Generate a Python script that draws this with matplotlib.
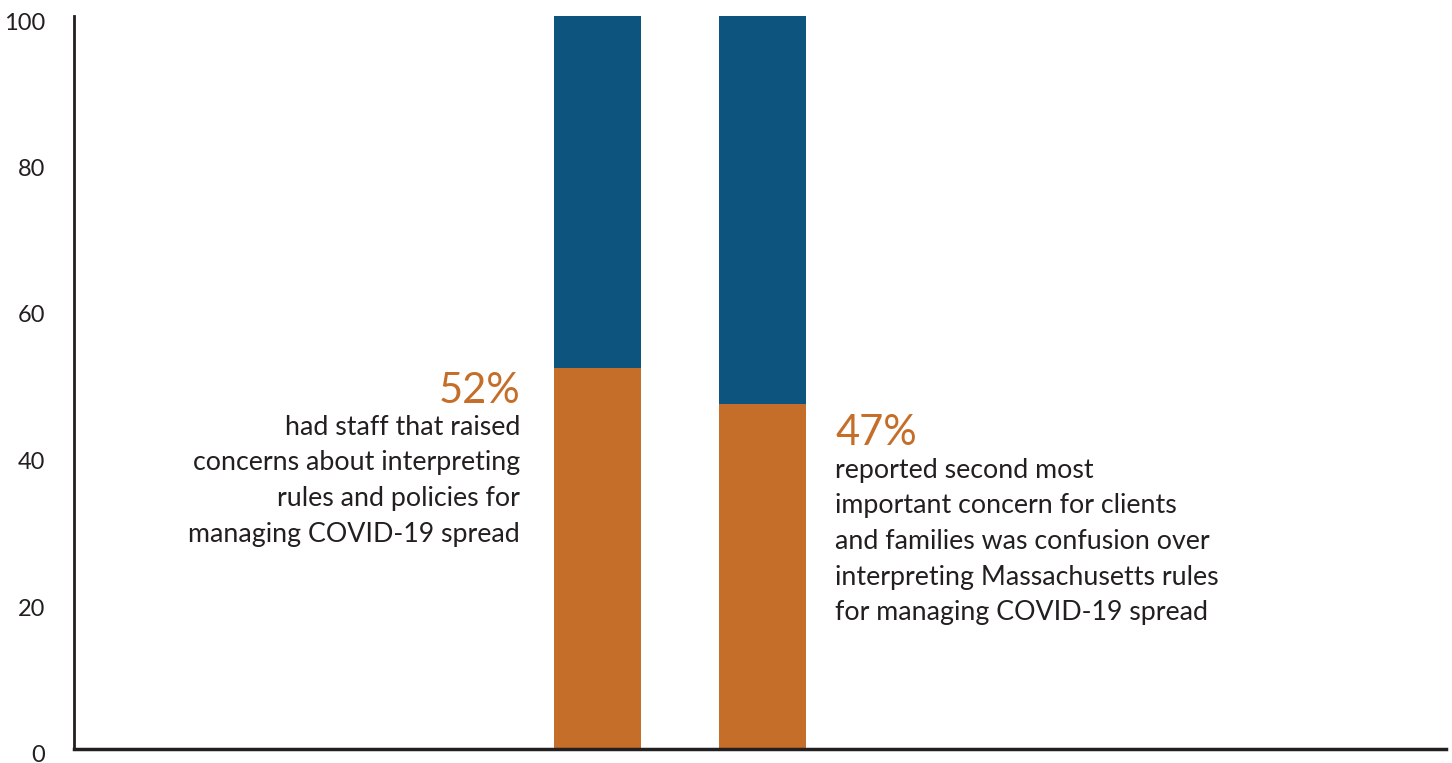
import matplotlib.pyplot as plt
import matplotlib.transforms as mtransforms

# Andel som rapporterade oro (orange) och resten upp till 100 (blå)
bar_pos = [0, 1]
concern_pct = [52, 47]
total_pct = [100, 100]
yticks = [0, 20, 40, 60, 80, 100]

headline_left = "52%"
body_left = ("had staff that raised\n"
             "concerns about interpreting\n"
             "rules and policies for\n"
             "managing COVID-19 spread")
headline_right = "47%"
body_right = ("reported second most\n"
              "important concern for clients\n"
              "and families was confusion over\n"
              "interpreting Massachusetts rules\n"
              "for managing COVID-19 spread")

orange = '#C46E29'
blue = '#0D557E'
dark = '#231F20'

plt.rcParams['font.family'] = ['Lato', 'DejaVu Sans']

fig = plt.figure(figsize=(14.52, 7.63), dpi=100)
ax = fig.add_axes([74 / 1452, (763 - 748.5) / 763, (1446 - 74) / 1452, (748.5 - 16) / 763])

bar_w = 87 / 165
rest = [t - c for t, c in zip(total_pct, concern_pct)]
ax.bar(bar_pos, concern_pct, width=bar_w, color=orange, linewidth=0)
ax.bar(bar_pos, rest, bottom=concern_pct, width=bar_w, color=blue, linewidth=0)

ax.set_xlim(-3.173, 5.142)
ax.set_ylim(0, 100)
ax.set_yticks(yticks)
ax.set_xticks([])
ax.tick_params(axis='y', length=0, pad=21, labelsize=17, labelcolor=dark)

# Etiketterna sitter lite under sina värden
offset = mtransforms.ScaledTranslation(0, -5 / 100, fig.dpi_scale_trans)
for lab in ax.get_yticklabels():
    lab.set_transform(lab.get_transform() + offset)

for side in ['top', 'right']:
    ax.spines[side].set_visible(False)
ax.spines['left'].set_linewidth(2)
ax.spines['left'].set_color(dark)
ax.spines['bottom'].set_linewidth(2.5)
ax.spines['bottom'].set_color(dark)

# Text till vänster om första stapeln (baseline = sista raden)
x_left = bar_pos[0] - bar_w / 2
ax.annotate(headline_left, xy=(x_left, concern_pct[0]), xytext=(-34, -35),
            textcoords='offset pixels', ha='right', va='baseline',
            fontsize=30, color=orange)
ax.annotate(body_left, xy=(x_left, concern_pct[0]), xytext=(-34, -174),
            textcoords='offset pixels', ha='right', va='baseline',
            multialignment='right', fontsize=19.3, color=dark, linespacing=1.53)

# Text till höger om andra stapeln
x_right = bar_pos[1] + bar_w / 2
ax.annotate(headline_right, xy=(x_right, concern_pct[1]), xytext=(29, -41),
            textcoords='offset pixels', ha='left', va='baseline',
            fontsize=30, color=orange)
ax.annotate(body_right, xy=(x_right, concern_pct[1]), xytext=(29, -216),
            textcoords='offset pixels', ha='left', va='baseline',
            multialignment='left', fontsize=19.3, color=dark, linespacing=1.53)

fig.savefig('out.png', dpi=100)
